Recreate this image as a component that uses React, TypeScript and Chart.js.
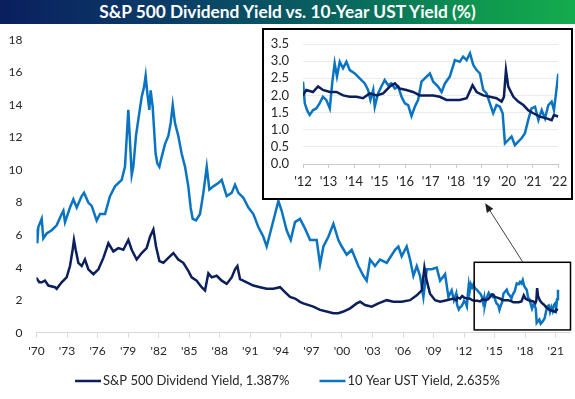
import React, { useEffect, useRef } from 'react';
import { Chart, registerables } from 'chart.js';
Chart.register(...registerables);

const DIV_COLOR = '#0b1f5c';
const UST_COLOR = '#0a74c2';
const FONT = 'Lato';

const TITLE = 'S&P 500 Dividend Yield vs. 10-Year UST Yield (%)';
const DIV_LABEL = 'S&P 500 Dividend Yield, 1.387%';
const UST_LABEL = '10 Year UST Yield, 2.635%';

const mainTickLabels = ["'70", "'73", "'76", "'79", "'82", "'85", "'88", "'91", "'94", "'97", "'00", "'03", "'06", "'09", "'12", "'15", "'18", "'21"];
const insetTickLabels = ["'12", "'13", "'14", "'15", "'16", "'17", "'18", "'19", "'20", "'21", "'22"];
const mainStart = 1971.05;
const mainEnd = 2023.45;
const insetStart = 2012.27;
const insetEnd = 2022.27;

// 1971 - early 2012 (main chart only)
const histUstYears = [1971.0, 1971.13, 1971.23, 1971.56, 1971.72, 1972.05, 1972.54, 1973.03, 1973.52, 1973.69, 1973.85, 1974.34, 1974.67, 1975.0, 1975.49, 1975.72, 1976.14, 1976.47, 1976.96, 1977.29, 1977.78, 1978.27, 1978.76, 1979.42, 1979.74, 1980.07, 1980.23, 1980.4, 1980.56, 1980.82, 1981.05, 1981.38, 1981.61, 1981.77, 1981.94, 1982.13, 1982.26, 1982.46, 1982.62, 1982.75, 1982.92, 1983.12, 1983.34, 1983.67, 1984.0, 1984.23, 1984.43, 1984.65, 1984.98, 1985.31, 1985.64, 1985.96, 1986.19, 1986.39, 1986.72, 1987.11, 1987.44, 1987.77, 1988.03, 1988.42, 1988.91, 1989.24, 1989.73, 1990.22, 1990.55, 1990.88, 1991.37, 1991.86, 1992.35, 1992.84, 1993.33, 1993.66, 1993.99, 1994.48, 1994.81, 1995.13, 1995.62, 1996.02, 1996.44, 1996.93, 1997.43, 1997.92, 1998.57, 1998.9, 1999.23, 1999.72, 2000.21, 2000.7, 2001.03, 2001.52, 2002.01, 2002.66, 2003.16, 2003.48, 2003.81, 2004.3, 2004.79, 2005.45, 2006.27, 2006.59, 2006.92, 2007.41, 2007.74, 2008.07, 2008.4, 2008.72, 2009.05, 2009.38, 2009.87, 2010.36, 2010.69, 2011.18, 2011.51, 2011.83, 2012.05];
const histUstValues = [6.4, 5.5, 6.5, 7.0, 5.8, 6.1, 6.3, 6.6, 7.3, 7.5, 6.8, 7.7, 8.2, 7.7, 8.4, 8.6, 8.0, 7.8, 6.9, 7.3, 7.3, 8.4, 9.0, 9.4, 10.2, 13.7, 11.8, 9.7, 10.2, 12.1, 13.1, 14.5, 15.1, 15.8, 14.7, 13.7, 14.9, 13.9, 12.3, 11.0, 10.4, 10.2, 10.8, 11.6, 12.1, 12.9, 14.0, 12.9, 12.1, 11.0, 10.2, 9.0, 7.7, 7.0, 6.9, 7.3, 8.6, 10.2, 8.8, 9.0, 9.2, 9.4, 8.4, 8.6, 9.1, 8.6, 8.3, 7.7, 7.3, 6.5, 5.9, 5.3, 6.1, 7.3, 8.1, 7.5, 6.3, 5.7, 6.8, 7.0, 6.4, 5.7, 5.7, 4.2, 5.3, 5.9, 6.7, 5.7, 5.3, 4.8, 5.1, 4.1, 3.5, 3.2, 4.5, 4.1, 4.5, 4.3, 5.1, 5.3, 4.7, 5.3, 4.5, 3.5, 4.1, 3.5, 2.2, 3.9, 3.9, 4.0, 3.2, 3.6, 2.2, 2.6, 2.0];

const histDivYears = [1971.0, 1971.33, 1971.56, 1971.88, 1972.21, 1972.87, 1973.03, 1973.52, 1974.01, 1974.34, 1974.6, 1974.73, 1974.9, 1975.16, 1975.49, 1975.81, 1976.14, 1976.64, 1977.13, 1977.62, 1978.11, 1978.6, 1979.09, 1979.58, 1980.07, 1980.4, 1980.89, 1981.38, 1981.87, 1982.2, 1982.53, 1982.79, 1983.12, 1983.51, 1984.0, 1984.49, 1984.98, 1985.47, 1985.96, 1986.29, 1986.78, 1987.27, 1987.6, 1987.93, 1988.26, 1988.75, 1989.24, 1989.73, 1990.22, 1990.55, 1990.78, 1991.04, 1991.7, 1992.35, 1993.01, 1993.66, 1994.31, 1994.97, 1995.46, 1995.95, 1996.45, 1996.93, 1997.26, 1998.24, 1998.9, 1999.55, 2000.21, 2000.7, 2001.19, 2001.85, 2002.5, 2002.83, 2003.32, 2003.97, 2004.63, 2005.45, 2006.1, 2006.92, 2007.74, 2008.4, 2008.89, 2009.15, 2009.38, 2009.7, 2010.2, 2010.69, 2011.34, 2011.99];
const histDivValues = [3.4, 3.1, 3.1, 3.2, 2.9, 2.8, 2.7, 3.1, 3.4, 4.1, 5.1, 5.7, 5.1, 4.3, 4.1, 4.5, 3.9, 3.6, 3.9, 4.6, 5.5, 5.0, 5.2, 5.1, 5.7, 5.1, 4.5, 4.9, 5.2, 5.9, 6.35, 5.3, 4.4, 4.3, 4.6, 4.9, 4.5, 4.3, 3.8, 3.4, 3.2, 2.8, 2.6, 3.65, 3.4, 3.5, 3.2, 3.0, 3.4, 3.9, 4.1, 3.3, 3.1, 2.9, 2.8, 2.7, 2.7, 2.8, 2.5, 2.2, 2.1, 1.9, 1.8, 1.6, 1.4, 1.3, 1.2, 1.2, 1.3, 1.5, 1.8, 1.9, 1.7, 1.6, 1.8, 2.0, 1.9, 1.9, 2.0, 2.3, 2.6, 4.0, 3.2, 2.4, 2.0, 1.9, 2.0, 2.1];

// last 10 years (main chart and inset)
const recentUstYears = [2012.27, 2012.34, 2012.43, 2012.53, 2012.66, 2012.79, 2012.92, 2013.05, 2013.18, 2013.32, 2013.42, 2013.51, 2013.6, 2013.71, 2013.84, 2013.97, 2014.1, 2014.3, 2014.49, 2014.69, 2014.82, 2014.91, 2015.02, 2015.08, 2015.21, 2015.34, 2015.47, 2015.6, 2015.73, 2015.87, 2016.0, 2016.13, 2016.26, 2016.39, 2016.52, 2016.65, 2016.78, 2016.91, 2017.04, 2017.24, 2017.37, 2017.56, 2017.7, 2017.83, 2018.02, 2018.22, 2018.41, 2018.54, 2018.68, 2018.81, 2018.94, 2019.07, 2019.2, 2019.33, 2019.46, 2019.59, 2019.72, 2019.85, 2019.98, 2020.09, 2020.18, 2020.31, 2020.44, 2020.57, 2020.7, 2020.83, 2020.96, 2021.09, 2021.22, 2021.36, 2021.49, 2021.62, 2021.75, 2021.88, 2022.01, 2022.1, 2022.18, 2022.27];
const recentUstValues = [2.4, 1.77, 1.57, 1.43, 1.57, 1.62, 1.77, 1.96, 1.87, 1.62, 2.4, 2.94, 2.55, 2.98, 2.79, 2.98, 2.74, 2.64, 2.5, 2.35, 2.16, 1.87, 2.16, 1.67, 2.06, 2.26, 2.45, 2.3, 2.35, 2.2, 2.26, 1.96, 1.77, 1.72, 1.4, 1.67, 1.87, 2.4, 2.5, 2.64, 2.4, 2.26, 2.1, 2.35, 2.55, 3.03, 2.98, 3.13, 3.03, 3.23, 2.89, 2.74, 2.64, 2.16, 2.06, 1.77, 1.48, 1.72, 1.67, 1.48, 0.6, 0.7, 0.8, 0.55, 0.65, 0.75, 0.89, 1.28, 1.62, 1.67, 1.28, 1.57, 1.33, 1.72, 1.82, 1.57, 2.06, 2.635];
const recentDivYears = [2012.27, 2012.4, 2012.66, 2012.86, 2013.05, 2013.32, 2013.58, 2013.84, 2014.1, 2014.36, 2014.62, 2014.88, 2015.15, 2015.41, 2015.67, 2015.87, 2016.06, 2016.32, 2016.58, 2016.85, 2017.11, 2017.37, 2017.63, 2017.89, 2018.15, 2018.41, 2018.68, 2018.91, 2019.07, 2019.33, 2019.59, 2019.85, 2020.05, 2020.14, 2020.22, 2020.31, 2020.51, 2020.7, 2020.9, 2021.09, 2021.29, 2021.55, 2021.81, 2022.01, 2022.1, 2022.27];
const recentDivValues = [2.0, 2.16, 2.1, 2.26, 2.16, 2.1, 2.1, 2.0, 1.96, 1.96, 1.92, 2.06, 2.0, 2.06, 2.26, 2.35, 2.2, 2.16, 2.1, 2.0, 2.0, 2.0, 1.96, 1.87, 1.87, 1.87, 1.92, 2.3, 2.1, 2.0, 1.96, 1.92, 1.82, 1.96, 2.74, 2.26, 1.96, 1.82, 1.72, 1.57, 1.48, 1.38, 1.33, 1.28, 1.43, 1.387];

// annotation (zoom box and arrow) in data units of the main chart
const zoomBoxYears = [2014.04, 2023.5];
const zoomBoxValues = [0.17, 4.33];
const arrowYears = [2018.83, 2015.12];
const arrowValues = [4.33, 7.96];

const toPoints = (xs: number[], ys: number[]) => xs.map((x, i) => ({ x, y: ys[i] }));

const annotationPlugin = {
  id: 'zoomAnnotation',
  afterDraw(chart: any) {
    const { ctx, scales } = chart;
    const x = scales.x, y = scales.y;
    ctx.save();
    const x0 = x.getPixelForValue(zoomBoxYears[0]);
    const x1 = x.getPixelForValue(zoomBoxYears[1]);
    const y0 = y.getPixelForValue(zoomBoxValues[1]);
    const y1 = y.getPixelForValue(zoomBoxValues[0]);
    ctx.strokeStyle = '#000';
    ctx.lineWidth = 1.5;
    ctx.strokeRect(x0, y0, x1 - x0, y1 - y0);
    const ax = x.getPixelForValue(arrowYears[0]);
    const ay = y.getPixelForValue(arrowValues[0]);
    const bx = x.getPixelForValue(arrowYears[1]);
    const by = y.getPixelForValue(arrowValues[1]);
    const ang = Math.atan2(by - ay, bx - ax);
    const headLen = 9, headW = 3.8;
    ctx.strokeStyle = '#404040';
    ctx.fillStyle = '#202020';
    ctx.lineWidth = 1;
    ctx.beginPath();
    ctx.moveTo(ax, ay);
    ctx.lineTo(bx - Math.cos(ang) * headLen * 0.8, by - Math.sin(ang) * headLen * 0.8);
    ctx.stroke();
    ctx.beginPath();
    ctx.moveTo(bx, by);
    ctx.lineTo(bx - Math.cos(ang) * headLen - Math.sin(ang) * headW, by - Math.sin(ang) * headLen + Math.cos(ang) * headW);
    ctx.lineTo(bx - Math.cos(ang) * headLen + Math.sin(ang) * headW, by - Math.sin(ang) * headLen - Math.cos(ang) * headW);
    ctx.closePath();
    ctx.fill();
    ctx.restore();
  },
};

const legendPlugin = {
  id: 'lineLegend',
  afterDraw(chart: any) {
    const ctx = chart.ctx;
    ctx.save();
    ctx.font = `13px ${FONT}`;
    const items = chart.data.datasets.map((ds: any) => ({ text: ds.label, color: ds.borderColor, w: ctx.measureText(ds.label).width }));
    const lineW = 26, gap = 2, itemGap = 30;
    const total = items.reduce((a: number, it: any) => a + lineW + gap + it.w, 0) + itemGap * (items.length - 1);
    let x = (chart.width - total) / 2;
    const y = 381;
    items.forEach((it: any) => {
      ctx.strokeStyle = it.color;
      ctx.lineWidth = 2.5;
      ctx.beginPath();
      ctx.moveTo(x, y);
      ctx.lineTo(x + lineW, y);
      ctx.stroke();
      ctx.fillStyle = '#262626';
      ctx.textBaseline = 'middle';
      ctx.textAlign = 'left';
      ctx.fillText(it.text, x + lineW + gap, y);
      x += lineW + gap + it.w + itemGap;
    });
    ctx.restore();
  },
};

export default function App() {
  const mainRef = useRef<HTMLCanvasElement>(null);
  const insetRef = useRef<HTMLCanvasElement>(null);

  useEffect(() => {
    document.body.style.margin = '0';
    const divData = toPoints(histDivYears, histDivValues).concat(toPoints(recentDivYears, recentDivValues));
    const ustData = toPoints(histUstYears, histUstValues).concat(toPoints(recentUstYears, recentUstValues));

    const main = new Chart(mainRef.current as HTMLCanvasElement, {
      type: 'line',
      data: {
        datasets: [
          { label: DIV_LABEL, data: divData, borderColor: DIV_COLOR, backgroundColor: DIV_COLOR, borderWidth: 2.5, pointRadius: 0, tension: 0 },
          { label: UST_LABEL, data: ustData, borderColor: UST_COLOR, backgroundColor: UST_COLOR, borderWidth: 2.5, pointRadius: 0, tension: 0 },
        ],
      },
      options: {
        responsive: false,
        animation: false,
        layout: { padding: { left: 0, right: 5, top: 40, bottom: 36.3 } },
        plugins: { legend: { display: false }, tooltip: { enabled: false }, title: { display: false } },
        scales: {
          x: {
            type: 'linear',
            min: mainStart,
            max: mainEnd,
            bounds: 'data',
            afterBuildTicks: (s: any) => { s.ticks = mainTickLabels.map((_, i) => ({ value: mainStart + 3 * i })); },
            afterFit: (s: any) => { s.height = 30; },
            ticks: { callback: (_v: any, i: number) => mainTickLabels[i], autoSkip: false, maxRotation: 0, padding: 6, color: '#262626', font: { family: FONT, size: 12 } },
            grid: { drawOnChartArea: false, drawTicks: true, tickLength: 5, color: '#d9d9d9' },
            border: { display: true, color: '#d9d9d9' },
          },
          y: {
            min: 0,
            max: 18,
            afterFit: (s: any) => { s.width = 36.5; },
            ticks: { stepSize: 2, autoSkip: false, padding: 0, color: '#262626', font: { family: FONT, size: 12 } },
            grid: { display: false, drawTicks: true, tickLength: 14 },
            border: { display: false },
          },
        },
      } as any,
      plugins: [annotationPlugin, legendPlugin],
    });

    const insetDiv = toPoints(recentDivYears, recentDivValues);
    const insetUst = toPoints(recentUstYears, recentUstValues);
    const inset = new Chart(insetRef.current as HTMLCanvasElement, {
      type: 'line',
      data: {
        datasets: [
          { label: DIV_LABEL, data: insetDiv, borderColor: DIV_COLOR, borderWidth: 2.5, pointRadius: 0, tension: 0 },
          { label: UST_LABEL, data: insetUst, borderColor: UST_COLOR, borderWidth: 2.5, pointRadius: 0, tension: 0 },
        ],
      },
      options: {
        responsive: false,
        animation: false,
        layout: { padding: { left: 0, right: 12.7, top: 14, bottom: 4 } },
        plugins: { legend: { display: false }, tooltip: { enabled: false }, title: { display: false } },
        scales: {
          x: {
            type: 'linear',
            min: insetStart,
            max: insetEnd,
            bounds: 'data',
            afterBuildTicks: (s: any) => { s.ticks = insetTickLabels.map((_, i) => ({ value: insetStart + i })); },
            afterFit: (s: any) => { s.height = 30; },
            ticks: { callback: (_v: any, i: number) => insetTickLabels[i], autoSkip: false, maxRotation: 0, padding: 3.8, color: '#262626', font: { family: FONT, size: 13, lineHeight: 1.55 } },
            grid: { drawOnChartArea: false, drawTicks: true, tickLength: 4, color: '#c8c8c8' },
            border: { display: true, color: '#c8c8c8' },
          },
          y: {
            min: 0,
            max: 3.5,
            afterFit: (s: any) => { s.width = 39; },
            ticks: { stepSize: 0.5, autoSkip: false, padding: 0, color: '#262626', font: { family: FONT, size: 13 }, callback: (v: any) => Number(v).toFixed(1) },
            grid: { drawTicks: true, tickLength: 14, tickColor: 'rgba(0,0,0,0)', color: '#ebebeb' },
            border: { display: false },
          },
        },
      } as any,
    });

    return () => { main.destroy(); inset.destroy(); };
  }, []);

  return (
    <div style={{ position: 'relative', width: 575, height: 399, background: '#fff', overflow: 'hidden' }}>
      <canvas ref={mainRef} width={575} height={399} style={{ position: 'absolute', left: 0, top: 0 }} />
      <div
        style={{
          position: 'absolute', left: 0, top: 0, width: 575, height: 24,
          background: 'linear-gradient(90deg, #0a1f5e 0%, #0b3d68 30%, #08665e 60%, #0f9a4f 85%, #14ab4d 100%)',
          color: '#fff', fontFamily: FONT, fontWeight: 700, fontSize: 17.3, lineHeight: '24px', textAlign: 'center', whiteSpace: 'nowrap',
        }}
      >
        {TITLE}
      </div>
      <div
        style={{
          position: 'absolute', left: 262, top: 28, width: 311, height: 172,
          border: '2px solid #000', boxSizing: 'border-box', background: '#fff',
        }}
      >
        <canvas ref={insetRef} width={307} height={168} style={{ display: 'block' }} />
      </div>
    </div>
  );
}
